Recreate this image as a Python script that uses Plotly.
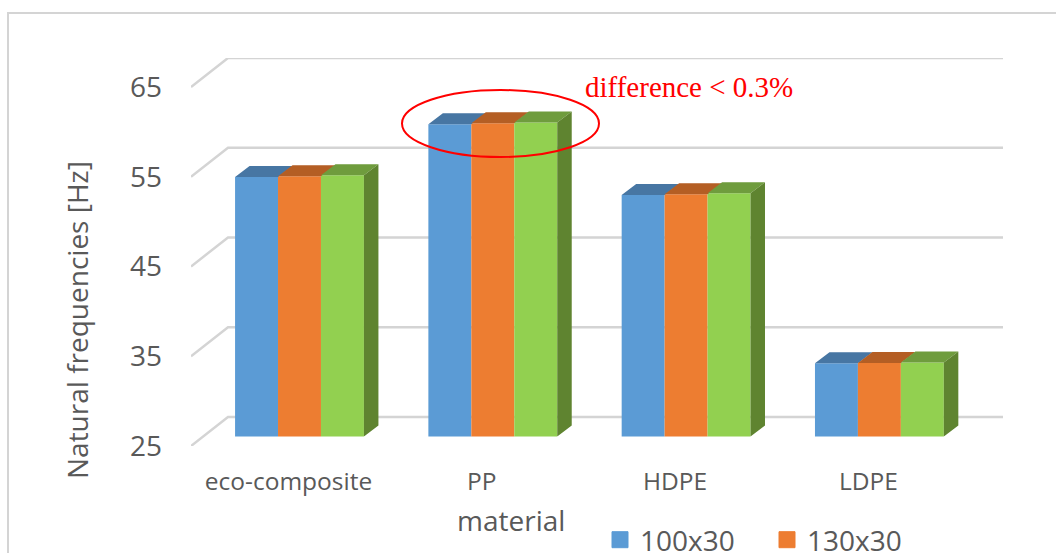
import numpy as np
import plotly.graph_objects as go

W, H = 1056, 553

categories = ["eco-composite", "PP", "HDPE", "LDPE"]
series_names = ["100x30", "130x30", "Series 3"]
values_100x30 = [53.9, 59.8, 51.9, 33.15]
values_130x30 = [54.0, 59.9, 52.0, 33.2]
values_third = [54.1, 60.0, 52.1, 33.25]
tick_values = [25, 35, 45, 55, 65]

front_colors = ["#5B9BD5", "#ED7D31", "#92D050"]
top_colors = ["#4776A3", "#B45E24", "#6F9C3D"]
side_color = "#5F8430"
grid_color = "#D4D4D4"
text_color = "#595959"
font_name = "Open Sans"

# scale: pixels per category / per Hz
px_cat = 193.3
px_hz = 8.975
x_left, x_right = 191, 1003
y_top = 58
y_floor_front = 446      # front edge of the floor
y_floor_bars = 436.5     # plane of the bars' front faces
label_x0 = 288.5         # category label centre
bar_x0 = 299.5           # bar group centre

all_values = [values_100x30, values_130x30, values_third]
fig = go.Figure()

# ---- wall and floor lines on frame axes
wall_dx, wall_dy = 37 / px_cat, 29 / px_hz
frame_left = (x_left - label_x0) / px_cat
frame_right = (x_right - label_x0) / px_cat
wx, wy = [], []
for v in tick_values:
    wx += [frame_left, frame_left + wall_dx, frame_right, None]
    wy += [v, v + wall_dy, v + wall_dy, None]
fig.add_trace(go.Scatter(x=wx, y=wy, mode="lines", showlegend=False, hoverinfo="skip",
                         line=dict(color=grid_color, width=2.5), xaxis="x", yaxis="y"))

# ---- front faces
positions = np.arange(len(categories))
for name, vals, col in zip(series_names, all_values, front_colors):
    fig.add_trace(go.Bar(x=positions, y=vals, name=name, marker=dict(color=col, line=dict(width=0)),
                         showlegend=False, xaxis="x2", yaxis="y2"))

# ---- top and side faces derived from the values
bar_w = (2 / 3) / 3
dx, dy = 14.5 / px_cat, 11 / px_hz
for j, (vals, col) in enumerate(zip(all_values, top_colors)):
    px, py = [], []
    for i, v in enumerate(vals):
        l = i + (j - 1.5) * bar_w
        r = l + bar_w
        px += [l, r, r + dx, l + dx, l, None]
        py += [v, v, v + dy, v + dy, v, None]
    fig.add_trace(go.Scatter(x=px, y=py, mode="lines", fill="toself", fillcolor=col,
                             line=dict(width=0, color=col), showlegend=False, hoverinfo="skip",
                             xaxis="x2", yaxis="y2"))
px, py = [], []
for i, v in enumerate(values_third):
    r = i + 1.5 * bar_w
    px += [r, r + dx, r + dx, r, r, None]
    py += [25, 25 + dy, v + dy, v, 25, None]
fig.add_trace(go.Scatter(x=px, y=py, mode="lines", fill="toself", fillcolor=side_color,
                         line=dict(width=0, color=side_color), showlegend=False, hoverinfo="skip",
                         xaxis="x2", yaxis="y2"))

# ---- legend entries (third entry falls outside the visible page in the reference)
for name, col in zip(series_names[:2], front_colors[:2]):
    fig.add_trace(go.Scatter(x=[None], y=[None], mode="markers", name=name,
                             marker=dict(symbol="square", size=16, color=col, line=dict(width=1, color=col)),
                             xaxis="x2", yaxis="y2"))

fig.update_layout(
    width=W, height=H, margin=dict(l=0, r=0, t=0, b=0, autoexpand=False),
    paper_bgcolor="white", plot_bgcolor="rgba(0,0,0,0)", barmode="group", bargap=1 / 3, bargroupgap=0,
    font=dict(family=font_name, color=text_color),
    xaxis=dict(domain=[x_left / W, x_right / W], range=[frame_left, frame_right], anchor="y",
               tickmode="array", tickvals=list(positions), ticktext=categories, showgrid=False,
               zeroline=False, showline=False, ticks="", ticklabelstandoff=18,
               tickfont=dict(size=24.5, family=font_name, color=text_color)),
    yaxis=dict(domain=[1 - y_floor_front / H, 1 - y_top / H],
               range=[25, 25 + (y_floor_front - y_top) / px_hz], anchor="x",
               tickmode="array", tickvals=tick_values, showgrid=False, zeroline=False,
               showline=False, ticks="", ticklabelstandoff=28,
               tickfont=dict(size=28, family=font_name, color=text_color)),
    xaxis2=dict(domain=[x_left / W, x_right / W],
                range=[(x_left - bar_x0) / px_cat, (x_right - bar_x0) / px_cat], anchor="y2",
                visible=False),
    yaxis2=dict(domain=[1 - y_floor_bars / H, 1 - y_top / H],
                range=[25, 25 + (y_floor_bars - y_top) / px_hz], anchor="x2", visible=False),
    legend=dict(orientation="h", x=600 / W, xanchor="left", y=1 - 540 / H, yanchor="middle",
                font=dict(size=28, family=font_name, color=text_color),
                entrywidth=122, entrywidthmode="pixels", bgcolor="rgba(0,0,0,0)",
                itemsizing="trace", traceorder="normal"),
    shapes=[
        dict(type="rect", xref="paper", yref="paper", x0=8 / W, x1=1.05, y0=-0.05, y1=1 - 13 / H,
             line=dict(color=grid_color, width=2), fillcolor="rgba(0,0,0,0)", layer="below"),
        dict(type="circle", xref="x2", yref="y2",
             x0=(402 - bar_x0) / px_cat, x1=(599 - bar_x0) / px_cat,
             y0=25 + (y_floor_bars - 157) / px_hz, y1=25 + (y_floor_bars - 90) / px_hz,
             line=dict(color="#FF0000", width=2), layer="above"),
    ],
    annotations=[
        dict(text="difference &lt; 0.3%", xref="paper", yref="paper", x=688.5 / W, y=1 - 87 / H,
             xanchor="center", yanchor="middle", showarrow=False,
             font=dict(family="Liberation Serif", size=29, color="#FF0000")),
        dict(text="Natural frequencies [Hz]", xref="paper", yref="paper", x=77 / W, y=1 - 320 / H,
             xanchor="center", yanchor="middle", showarrow=False, textangle=-90,
             font=dict(family=font_name, size=28, color=text_color)),
        dict(text="material", xref="paper", yref="paper", x=511 / W, y=1 - 520 / H,
             xanchor="center", yanchor="middle", showarrow=False,
             font=dict(family=font_name, size=28, color=text_color)),
    ],
)

fig.write_html("out.html", config=dict(displayModeBar=False),
               post_script="document.body.style.margin='0';document.body.style.overflow='hidden';")
